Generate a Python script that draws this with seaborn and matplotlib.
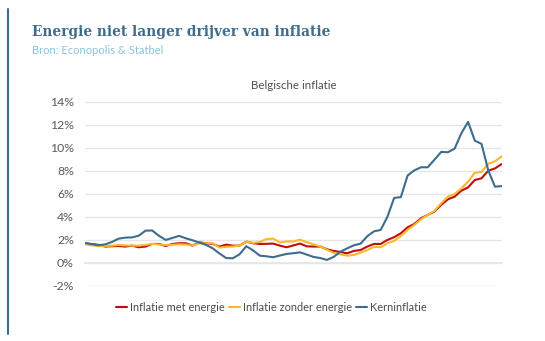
import numpy as np
import pandas as pd
import matplotlib
matplotlib.use("Agg")
import matplotlib.pyplot as plt
from matplotlib.lines import Line2D
import seaborn as sns

# Monthly series, Jan 2018 - Mar 2023 (% y/y)
months = pd.date_range("2018-01-01", "2023-03-01", freq="MS").strftime("%Y-%m").tolist()

inflatie_met_energie = [
    1.69, 1.62, 1.55, 1.40, 1.43, 1.45, 1.40, 1.48, 1.34, 1.40, 1.63, 1.63,
    1.45, 1.63, 1.69, 1.69, 1.48, 1.77, 1.69, 1.63, 1.40, 1.57, 1.48, 1.48,
    1.83, 1.69, 1.63, 1.64, 1.66, 1.48, 1.34, 1.50, 1.66, 1.42, 1.40, 1.40,
    1.16, 1.02, 0.93, 0.81, 1.02, 1.10, 1.40, 1.63, 1.63, 1.98, 2.22, 2.56,
    3.08, 3.37, 3.87, 4.16, 4.45, 5.03, 5.52, 5.75, 6.27, 6.56, 7.20, 7.35,
    8.01, 8.21, 8.59,
]
inflatie_zonder_energie = [
    1.60, 1.50, 1.45, 1.45, 1.48, 1.54, 1.50, 1.48, 1.48, 1.54, 1.63, 1.58,
    1.54, 1.56, 1.60, 1.58, 1.48, 1.69, 1.69, 1.69, 1.31, 1.38, 1.40, 1.48,
    1.83, 1.72, 1.80, 2.05, 2.10, 1.75, 1.85, 1.85, 2.00, 1.78, 1.60, 1.40,
    1.12, 0.85, 0.72, 0.61, 0.67, 0.87, 1.10, 1.38, 1.34, 1.69, 1.89, 2.33,
    2.85, 3.28, 3.78, 4.16, 4.50, 5.17, 5.75, 5.98, 6.47, 7.05, 7.83, 7.90,
    8.62, 8.83, 9.26,
]
kerninflatie = [
    1.71, 1.61, 1.52, 1.59, 1.80, 2.09, 2.18, 2.20, 2.35, 2.79, 2.80, 2.34,
    1.98, 2.15, 2.33, 2.12, 1.95, 1.75, 1.55, 1.25, 0.80, 0.40, 0.38, 0.73,
    1.43, 1.07, 0.61, 0.55, 0.47, 0.62, 0.76, 0.82, 0.90, 0.70, 0.50, 0.40,
    0.24, 0.50, 0.95, 1.24, 1.51, 1.65, 2.30, 2.73, 2.85, 4.00, 5.64, 5.71,
    7.59, 8.04, 8.31, 8.31, 8.97, 9.65, 9.62, 9.94, 11.27, 12.27, 10.63, 10.35,
    8.05, 6.62, 6.67,
]

series_names = ["Inflatie met energie", "Inflatie zonder energie", "Kerninflatie"]
series_colors = ["#c00d0d", "#f9b92b", "#3d6d8e"]
y_ticks = [-2, 0, 2, 4, 6, 8, 10, 12, 14]

idx = np.arange(len(months))
df = pd.concat([
    pd.DataFrame({"idx": idx, "maand": months, "waarde": vals, "reeks": name})
    for name, vals in zip(series_names, [inflatie_met_energie, inflatie_zonder_energie, kerninflatie])
])

sns.set_theme(style="white")
plt.rcParams["font.family"] = ["Lato", "DejaVu Sans"]

fig = plt.figure(figsize=(5.45, 3.41), dpi=100)
ax = fig.add_axes([0.156, 0.1625, 0.7645, 0.5384])

sns.lineplot(data=df, x="idx", y="waarde", hue="reeks", hue_order=series_names,
             palette=series_colors, linewidth=1.5, ax=ax, legend=False)

ax.set_xlim(idx[0], idx[-1])
ax.set_ylim(y_ticks[0], y_ticks[-1])
ax.set_yticks(y_ticks)
ax.set_yticklabels([f"{t}%" for t in y_ticks], color="#5a5a5a", fontsize=8.8)
ax.yaxis.grid(True, color="#e6e6e6", linewidth=1)
ax.set_axisbelow(True)

# year ticks on the zero line, no labels
year_starts = [i for i, m in enumerate(months) if m.endswith("-01")]
ax.set_xticks(year_starts)
ax.set_xticklabels([])
for s in ["top", "right", "left"]:
    ax.spines[s].set_visible(False)
ax.spines["bottom"].set_position(("data", 0))
ax.spines["bottom"].set_color("#e6e6e6")
ax.tick_params(axis="x", length=4, color="#e0e0e0", width=1, direction="out")
ax.tick_params(axis="y", length=0, pad=8)
ax.set_xlabel("")
ax.set_ylabel("")

ax.set_title("Belgische inflatie", fontsize=8.3, color="#505050", pad=9)

handles = [Line2D([0], [0], color=c, lw=1.5) for c in series_colors]
fig.legend(handles, series_names, loc="center", bbox_to_anchor=(0.498, 0.098),
           ncol=3, frameon=False, fontsize=7.9, handlelength=1.0, handletextpad=0.3,
           columnspacing=0.35, labelcolor="#4a4a4a")

fig.text(0.059, 0.893, "Energie niet langer drijver van inflatie", fontsize=11,
         fontweight="bold", fontstretch="condensed", color="#3d6d8e",
         family=["DejaVu Serif"])
fig.text(0.059, 0.843, "Bron: Econopolis & Statbel", fontsize=8.0, color="#8cc3dc")
fig.add_artist(Line2D([0.0147, 0.0147], [0.02, 0.975], color="#3d6d8e", lw=1.5))

fig.savefig("out.png", dpi=100)
